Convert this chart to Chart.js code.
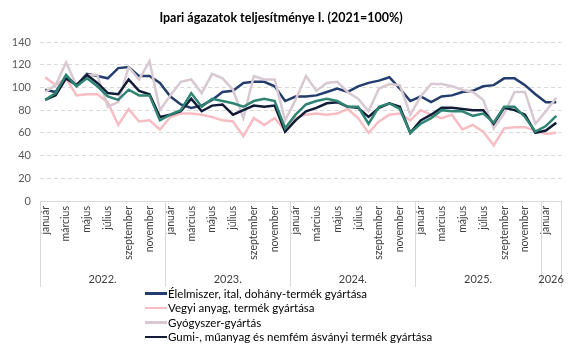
<!DOCTYPE html>
<html>
<head>
<meta charset="utf-8">
<script src="https://cdn.jsdelivr.net/npm/chart.js@4"></script>
<style>
  body { margin: 0; background: #fff; }
  #wrap { position: relative; width: 574px; height: 346px; }
  #legend { position: absolute; left: 145px; top: 286px; font-family: Lato, "Liberation Sans", sans-serif; font-size: 11.5px; color: #000; }
  .item { display: flex; align-items: center; height: 14.5px; white-space: nowrap; }
  .swatch { width: 22px; height: 2.5px; margin-right: 1px; }
</style>
</head>
<body>
<div id="wrap">
  <canvas id="myChart" width="574" height="346"></canvas>
  <div id="legend"></div>
</div>
<script>
const monthNames = ["január", "február", "március", "április", "május", "június",
  "július", "augusztus", "szeptember", "október", "november", "december"];
const years = ["2022.", "2023.", "2024.", "2025.", "2026"];
const monthsPerYear = [12, 12, 12, 12, 2];

const labels = [];
monthsPerYear.forEach((n) => {
  for (let m = 0; m < n; m++) labels.push(monthNames[m]);
});

const elelmiszer = [98, 96, 110, 102, 112, 110, 108, 117, 118, 110, 110, 104,
  92, 85, 82, 84, 89, 96, 97, 104, 105, 105, 101, 88,
  92, 92, 93, 96, 99, 96, 101, 104, 106, 109, 99, 88,
  92, 87, 92, 93, 96, 97, 101, 102, 108, 108, 102, 94, 87, 87];
const vegyi = [109, 102, 108, 93, 94, 94, 87, 67, 81, 70, 71, 63,
  74, 77, 77, 76, 74, 71, 70, 57, 73, 67, 73, 62,
  73, 76, 77, 76, 77, 81, 73, 60, 70, 76, 77, 71,
  80, 76, 73, 76, 63, 67, 61, 49, 64, 65, 65, 62, 59, 60];
const gyogyszer = [96, 102, 122, 102, 111, 111, 83, 87, 118, 107, 123, 80,
  93, 105, 107, 95, 112, 108, 98, 73, 110, 107, 107, 71,
  89, 110, 97, 104, 105, 96, 90, 79, 99, 103, 102, 76,
  92, 103, 103, 101, 98, 96, 89, 64, 77, 96, 96, 68, 79, 91];
const gumi = [89, 93, 108, 102, 111, 104, 95, 94, 107, 97, 94, 74,
  76, 79, 90, 79, 84, 85, 76, 80, 84, 83, 84, 61,
  71, 79, 82, 86, 87, 83, 82, 74, 82, 86, 83, 60,
  71, 76, 82, 82, 81, 80, 80, 68, 82, 80, 76, 60, 62, 69];
const egyeb = [89, 95, 111, 101, 108, 101, 92, 89, 98, 93, 93, 71,
  76, 80, 95, 83, 90, 88, 86, 83, 88, 90, 88, 64,
  76, 85, 88, 90, 88, 83, 83, 68, 83, 86, 81, 60,
  68, 73, 80, 79, 79, 75, 77, 69, 83, 83, 74, 61, 66, 75];

const ctx = document.getElementById("myChart").getContext("2d");
const font = "Lato, 'Liberation Sans', sans-serif";

const line = (label, data, color, order, legend) => ({
  label, data, borderColor: color, backgroundColor: color,
  borderWidth: 2.5, pointRadius: 0, tension: 0, fill: false, order, legend,
});

// year groups and the box around the month labels
const yearBox = {
  id: "yearBox",
  afterDraw(chart) {
    const c = chart.ctx, xs = chart.scales.x, top = chart.chartArea.bottom, bottom = top + 86;
    const half = (xs.getPixelForValue(1) - xs.getPixelForValue(0)) / 2;
    c.save();
    c.strokeStyle = "#d9d9d9";
    c.lineWidth = 1;
    c.beginPath();
    const left = xs.getPixelForValue(0) - half;
    const right = xs.getPixelForValue(labels.length - 1) + half;
    c.moveTo(left, Math.round(top) + 0.5);
    c.lineTo(right, Math.round(top) + 0.5);
    let idx = 0;
    const edges = [left];
    monthsPerYear.forEach((n) => { idx += n; edges.push(xs.getPixelForValue(idx - 1) + half); });
    edges.forEach((e) => {
      c.moveTo(Math.round(e) + 0.5, top);
      c.lineTo(Math.round(e) + 0.5, bottom);
    });
    c.stroke();
    c.fillStyle = "#404040";
    c.font = "11px " + font;
    c.textAlign = "center";
    c.textBaseline = "middle";
    years.forEach((y, i) => c.fillText(y, (edges[i] + edges[i + 1]) / 2, top + 78));
    c.restore();
  },
};

const myChart = new Chart(ctx, {
  type: "line",
  data: {
    labels,
    datasets: [
      line("Élelmiszer, ital, dohány-termék gyártása", elelmiszer, "#233d6e", 5, true),
      line("Vegyi anyag, termék gyártása", vegyi, "#f7bdc3", 4, true),
      line("Gyógyszer-gyártás", gyogyszer, "#d8c8d2", 3, true),
      line("Gumi-, műanyag és nemfém ásványi termék gyártása", gumi, "#101c38", 2, true),
      line("Egyéb", egyeb, "#2f8473", 1, false),
    ],
  },
  options: {
    responsive: false,
    animation: false,
    layout: { padding: { left: 0, right: 12, top: 0, bottom: 56 } },
    plugins: {
      legend: { display: false },
      tooltip: { enabled: false },
      title: {
        display: true,
        text: "Ipari ágazatok teljesítménye I. (2021=100%)",
        color: "#000",
        font: { family: font, size: 12.5, weight: "bold" },
        padding: { top: 10, bottom: 17 },
      },
    },
    scales: {
      x: {
        offset: true,
        grid: { display: false, drawTicks: false },
        border: { display: false },
        ticks: {
          autoSkip: false,
          minRotation: 90,
          maxRotation: 90,
          padding: 5,
          color: "#404040",
          font: { family: font, size: 10.5 },
          callback: function (v, i) { return i % 2 === 0 ? this.getLabelForValue(v) : ""; },
        },
        afterFit: (s) => { s.height = 89; },
      },
      y: {
        min: 0,
        max: 140,
        ticks: { stepSize: 20, padding: 9, color: "#595959", font: { family: font, size: 11 } },
        grid: {
          drawTicks: false,
          color: (c) => (c.tick && c.tick.value === 0 ? "rgba(0,0,0,0)" : "#d9d9d9"),
        },
        border: { display: false, dash: [4, 3] },
        afterFit: (s) => { s.width = 40; },
      },
    },
  },
  plugins: [yearBox],
});

// legend below the chart, first four series only
const legendEl = document.getElementById("legend");
myChart.data.datasets.filter((d) => d.legend).forEach((d) => {
  const row = document.createElement("div");
  row.className = "item";
  const sw = document.createElement("span");
  sw.className = "swatch";
  sw.style.background = d.borderColor;
  const tx = document.createElement("span");
  tx.textContent = d.label;
  row.appendChild(sw);
  row.appendChild(tx);
  legendEl.appendChild(row);
});
</script>
</body>
</html>
